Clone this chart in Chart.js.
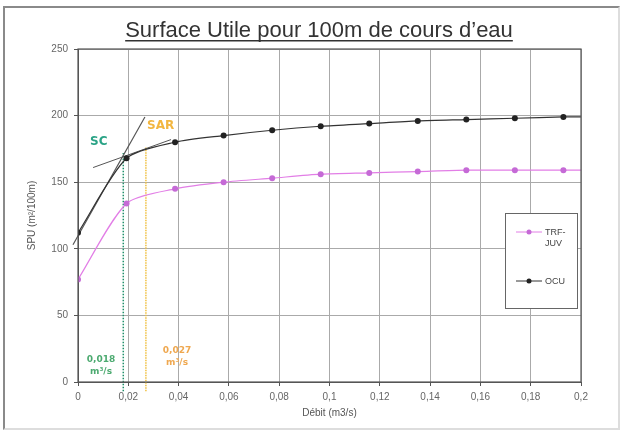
<!DOCTYPE html>
<html>
<head>
<meta charset="utf-8">
<script src="https://cdn.jsdelivr.net/npm/chart.js@4"></script>
<style>
  body { margin: 0; background: #fff; }
  #wrap { position: relative; width: 624px; height: 435px; }
  #frame { position: absolute; left: 3px; top: 6px; width: 617px; height: 424px; border: 2px solid #8a8a8a; border-right-color: #ddd; border-bottom-color: #ddd; box-sizing: border-box; pointer-events: none; }
</style>
</head>
<body>
<div id="wrap">
  <canvas id="c" width="624" height="435"></canvas>
  <div id="frame"></div>
</div>
<script>
// débits (m3/s) et SPU
const debits = [0, 0.0193, 0.0386, 0.0579, 0.0772, 0.0965, 0.1158, 0.1351, 0.1544, 0.1737, 0.193, 0.2];
const trfJuv = [77, 134, 145, 150, 153, 156, 157, 158, 159, 159, 159, 159];
const ocu = [112, 168, 180, 185, 189, 192, 194, 196, 197, 198, 199, 199];
const xTicks = [0, 0.02, 0.04, 0.06, 0.08, 0.1, 0.12, 0.14, 0.16, 0.18, 0.2];
const yTicks = [0, 50, 100, 150, 200, 250];

// tangentes et seuils
const tangenteRaide = [[-0.002, 103], [0.0266, 199]];
const tangentePlate = [[0.006, 161], [0.037, 182]];
const seuilSC = [[0.018, -7], [0.018, 172]];
const seuilSAR = [[0.027, -7], [0.027, 176]];

const pts = (xs, ys) => xs.map((x, i) => ({ x: x, y: ys[i] }));
const seg = a => a.map(p => ({ x: p[0], y: p[1] }));
const fmt = v => String(Math.round(v * 100) / 100).replace('.', ',');
const lastNoMarker = (n, r) => ctx => ctx.dataIndex === n - 1 ? 0 : r;

const decor = {
    id: 'decor',
    afterDraw(chart) {
        const c = chart.ctx, a = chart.chartArea;
        c.save();
        // titre souligné
        c.font = '22px "Liberation Sans", Arial, sans-serif';
        c.fillStyle = '#333'; c.textAlign = 'center'; c.textBaseline = 'alphabetic';
        const t = 'Surface Utile pour 100m de cours d\u2019eau';
        c.fillText(t, 319, 37);
        const w = c.measureText(t).width;
        c.fillRect(319 - w / 2, 40, w, 1.5);
        // cadre de la zone de tracé
        c.strokeStyle = '#555'; c.lineWidth = 1.2;
        c.strokeRect(a.left, a.top, a.right - a.left, a.bottom - a.top);
        // textes SC / SAR
        c.font = 'bold 12px "DejaVu Sans", sans-serif';
        c.textAlign = 'left';
        c.fillStyle = '#2aa386'; c.fillText('SC', 90, 145);
        c.fillStyle = '#f2b640'; c.fillText('SAR', 147, 129);
        c.font = 'bold 9px "DejaVu Sans", sans-serif';
        c.textAlign = 'center';
        c.fillStyle = '#4caa70';
        c.fillText('0,018', 101, 362); c.fillText('m\u00b3/s', 101, 374);
        c.fillStyle = '#efa850';
        c.fillText('0,027', 177, 353); c.fillText('m\u00b3/s', 177, 365);
        // légende
        const lx = 505, ly = 213, lw = 72, lh = 95;
        c.fillStyle = '#fff'; c.fillRect(lx, ly, lw, lh);
        c.strokeStyle = '#666'; c.lineWidth = 1; c.strokeRect(lx + 0.5, ly + 0.5, lw, lh);
        const item = (yy, col, mk, lines) => {
            c.strokeStyle = col; c.lineWidth = 1;
            c.beginPath(); c.moveTo(lx + 11, yy); c.lineTo(lx + 37, yy); c.stroke();
            c.fillStyle = mk; c.beginPath(); c.arc(lx + 24, yy, 2.5, 0, Math.PI * 2); c.fill();
            c.fillStyle = '#444'; c.font = '9px "Liberation Sans", Arial, sans-serif'; c.textAlign = 'left';
            lines.forEach((s, i) => c.fillText(s, lx + 40, yy + 3 + i * 11));
        };
        item(ly + 19, '#e27ee6', '#c56ad6', ['TRF-', 'JUV']);
        item(ly + 68, '#333', '#222', ['OCU']);
        c.restore();
    }
};

new Chart(document.getElementById('c'), {
    type: 'line',
    data: {
        datasets: [
            { label: 'TRF-JUV', data: pts(debits, trfJuv), borderColor: '#e27ee6', backgroundColor: '#c56ad6',
              borderWidth: 1.2, pointRadius: lastNoMarker(debits.length, 3), pointBorderWidth: 0, tension: 0.25 },
            { label: 'OCU', data: pts(debits, ocu), borderColor: '#333', backgroundColor: '#222',
              borderWidth: 1.2, pointRadius: lastNoMarker(debits.length, 3), pointBorderWidth: 0, tension: 0.25 },
            { data: seg(tangenteRaide), borderColor: '#555', borderWidth: 1.2, pointRadius: 0, clip: false },
            { data: seg(tangentePlate), borderColor: '#555', borderWidth: 1, pointRadius: 0, clip: false },
            { data: seg(seuilSC), borderColor: '#1f8f6a', borderWidth: 1.5, borderDash: [1.5, 1.5], pointRadius: 0, clip: false },
            { data: seg(seuilSAR), borderColor: '#f0c040', borderWidth: 1.5, borderDash: [1.5, 1], pointRadius: 0, clip: false }
        ]
    },
    options: {
        responsive: false,
        animation: false,
        layout: { padding: { top: 49, right: 43, left: 22, bottom: 12 } },
        plugins: { legend: { display: false }, tooltip: { enabled: false } },
        scales: {
            x: {
                type: 'linear', min: 0, max: 0.2,
                afterBuildTicks: s => { s.ticks = xTicks.map(v => ({ value: v })); },
                afterFit: s => { s.height = 41; },
                ticks: { callback: v => fmt(v), color: '#666', font: { size: 10, family: 'Liberation Sans' }, padding: 5 },
                grid: { color: '#aaa', lineWidth: 1, tickLength: 4, tickColor: '#555' },
                border: { color: '#555' },
                title: { display: true, text: 'D\u00e9bit (m3/s)', color: '#555', font: { size: 10, family: 'Liberation Sans' }, padding: { top: 2 } }
            },
            y: {
                type: 'linear', min: 0, max: 250,
                afterBuildTicks: s => { s.ticks = yTicks.map(v => ({ value: v })); },
                afterFit: s => { s.width = 56; },
                ticks: { color: '#666', font: { size: 10, family: 'Liberation Sans' }, padding: 6 },
                grid: { color: '#aaa', lineWidth: 1, tickLength: 4, tickColor: '#555' },
                border: { color: '#555' },
                title: { display: true, text: 'SPU (m\u00b2/100m)', color: '#555', font: { size: 10, family: 'Liberation Sans' }, padding: { bottom: 4 } }
            }
        }
    },
    plugins: [decor]
});
</script>
</body>
</html>
